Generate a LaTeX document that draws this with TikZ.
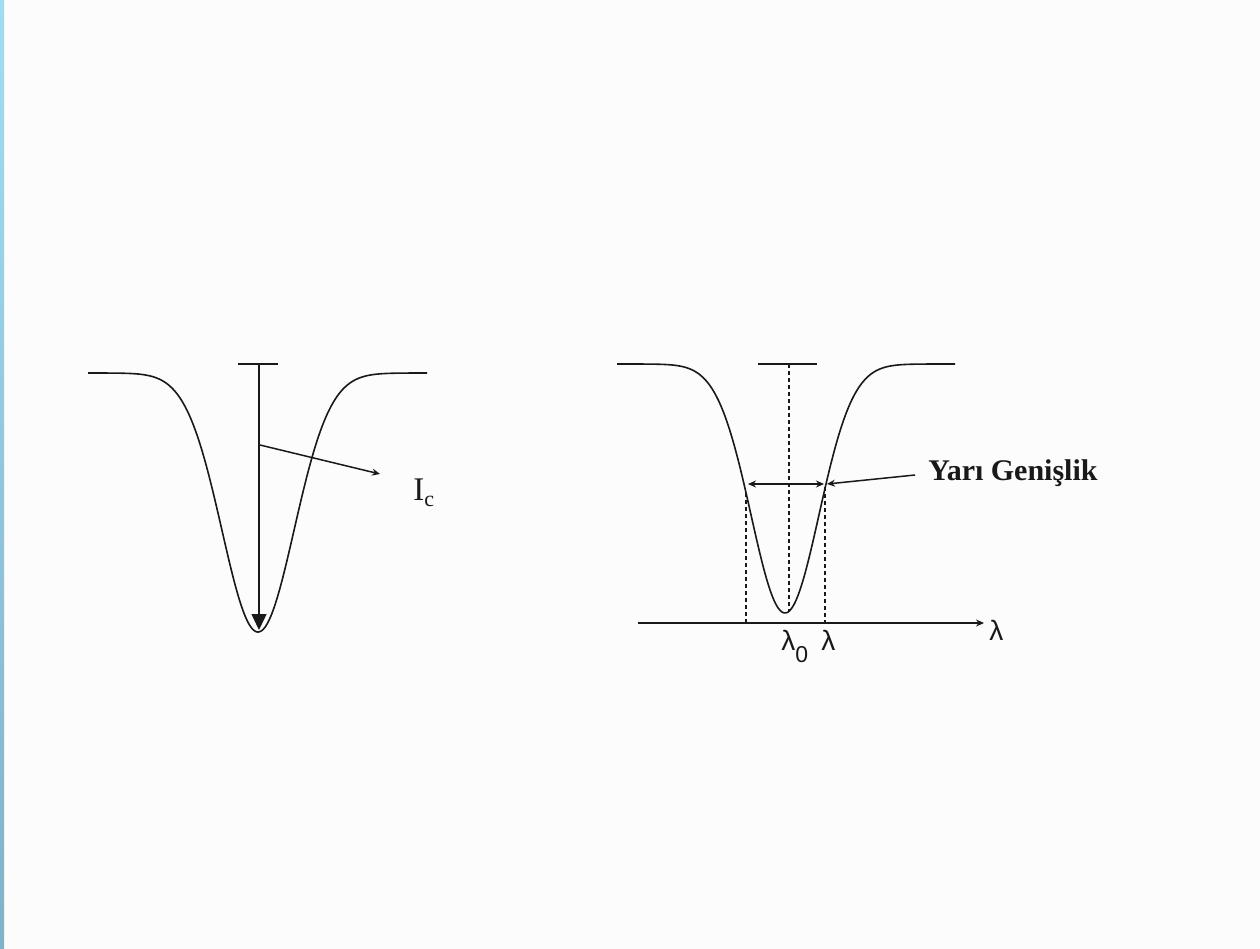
\documentclass[tikz,border=0pt]{standalone}
\usepackage{fontspec}
\setmainfont{Liberation Serif}
\newfontfamily\sansf{Liberation Sans}
\usetikzlibrary{arrows.meta}
\definecolor{bgc}{RGB}{252,252,252}
\definecolor{stripTop}{RGB}{162,220,244}
\definecolor{stripBot}{RGB}{128,178,200}
\definecolor{ink}{RGB}{25,25,25}
\begin{document}
\begin{tikzpicture}[x=0.5pt,y=-0.5pt,
  curve/.style={line width=0.8pt, ink},
  solidline/.style={line width=0.75pt, ink},
  dashline/.style={line width=0.6pt, ink, dash pattern=on 2.2pt off 1.3pt},
  bigtip/.style={-{Triangle[width=7.5pt,length=8pt]}},
  smalltip/.style={-{Stealth[width=3.5pt,length=4pt]}},
  lbl/.style={inner sep=0pt, ink}]
\useasboundingbox (0,0) rectangle (1260,949);
\fill[bgc] (0,0) rectangle (1260,949);
\shade[top color=stripTop, bottom color=stripBot] (0,0) rectangle (4,949);

% ---------- left profile ----------
\draw[curve] plot[domain=-170:169, samples=171, smooth] ({258+\x}, {373+259*exp(-(\x/51)^2)});
\coordinate (LbarL) at (238,364);
\coordinate (LbarR) at (278,364);
\coordinate (Ltop) at (259,364);
\coordinate (Lbot) at (259,630);
\coordinate (IcStart) at (260,445);
\coordinate (IcEnd) at (380,474);
\draw[solidline] (LbarL) -- (LbarR);
\draw[solidline, bigtip] (Ltop) -- (Lbot);
\draw[solidline, smalltip] (IcStart) -- (IcEnd);
\node[lbl, anchor=base west, font=\fontsize{16.5}{18}\selectfont] (Ic) at (413,500) {I\raisebox{-3pt}{\fontsize{11}{12}\selectfont c}};

% ---------- right profile ----------
\draw[curve] plot[domain=-168:170, samples=171, smooth] ({785+\x}, {364+249*exp(-(\x/48)^2)});
\coordinate (RbarL) at (758,364);
\coordinate (RbarR) at (817,364);
\coordinate (Rtop) at (789,364);
\coordinate (Rbot) at (789,612);
\coordinate (HwL) at (748,484);
\coordinate (HwR) at (824,484);
\coordinate (DlTop) at (746,493);
\coordinate (DlBot) at (746,623);
\coordinate (DrTop) at (825,487);
\coordinate (DrBot) at (825,623);
\coordinate (AxL) at (638,623);
\coordinate (AxR) at (984,623);
\coordinate (YgStart) at (915,475);
\coordinate (YgEnd) at (827,484);
\draw[solidline] (RbarL) -- (RbarR);
\draw[dashline] (Rtop) -- (Rbot);
\draw[dashline] (DlTop) -- (DlBot);
\draw[dashline] (DrTop) -- (DrBot);
\draw[solidline, {Stealth[width=3.5pt,length=4pt]}-{Stealth[width=3.5pt,length=4pt]}] (HwL) -- (HwR);
\draw[solidline, smalltip] (YgStart) -- (YgEnd);
\draw[solidline, smalltip] (AxL) -- (AxR);
\node[lbl, anchor=base west, font=\bfseries\fontsize{15}{17}\selectfont] (Yg) at (928,480) {Yarı Genişlik};
\node[lbl, anchor=base west, font=\sansf\fontsize{14}{16}\selectfont] (lamAx) at (989,640) {λ};
\node[lbl, anchor=base west, font=\sansf\fontsize{14}{16}\selectfont] (lam0) at (781,650) {λ\raisebox{-6pt}{\fontsize{11.5}{12}\selectfont 0}};
\node[lbl, anchor=base west, font=\sansf\fontsize{14}{16}\selectfont] (lam) at (821,650) {λ};
\end{tikzpicture}
\end{document}
